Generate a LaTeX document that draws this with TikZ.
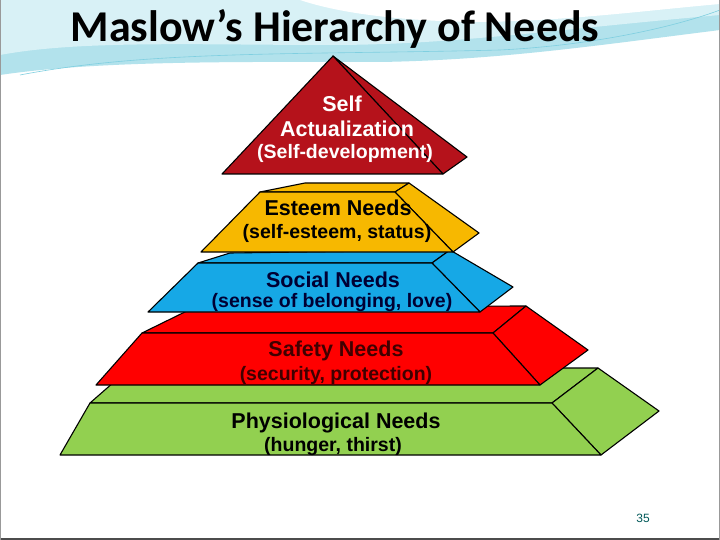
\documentclass[tikz,border=0pt]{standalone}
\usepackage{fontspec}
\setmainfont{Liberation Sans}
\newfontfamily\titlefont{Carlito}
\begin{document}
\begin{tikzpicture}[x=1pt,y=-1pt,
  face/.style={draw=black,line width=1.1pt,line join=round},
  lab/.style={font=\bfseries\fontsize{21.5}{23}\selectfont,inner sep=0pt},
  sub/.style={font=\bfseries\fontsize{19.5}{21}\selectfont,inner sep=0pt}]
\definecolor{topred}{HTML}{B5121B}
\definecolor{esteem}{HTML}{F7B800}
\definecolor{social}{HTML}{16A8E6}
\definecolor{safety}{HTML}{FF0000}
\definecolor{physio}{HTML}{92D050}
\definecolor{swoosh}{HTML}{7FCFE0}
\useasboundingbox (0,0) rectangle (720,540);
\fill[white] (0,0) rectangle (720,540);
% top swoosh background
\fill[swoosh!60] (0,0) -- (720,0) -- (720,30) .. controls (600,45) and (500,60) .. (380,62) .. controls (250,62) and (100,60) .. (0,75) -- cycle;
\fill[swoosh!30] (0,0) -- (720,0) -- (720,15) .. controls (550,30) and (450,45) .. (330,45) .. controls (200,45) and (80,40) .. (0,55) -- cycle;
\fill[white] (300,0) .. controls (330,10) and (380,20) .. (470,22) .. controls (560,22) and (650,10) .. (720,4) -- (720,0) -- cycle;
\draw[swoosh,line width=0.6pt] (20,75) .. controls (150,50) and (300,55) .. (500,50) .. controls (600,45) and (680,25) .. (720,10);
\draw[black!70,line width=1.5pt] (0,539) -- (720,539);
\draw[black!40,line width=0.8pt] (0.5,0) -- (0.5,540) (719.5,0) -- (719.5,540);
% physiological
\path[face,fill=physio] (90,403) -- (130,368) -- (598,368) -- (552,403) -- cycle;
\path[face,fill=physio] (552,403) -- (598,368) -- (659,411) -- (601,455) -- cycle;
\path[face,fill=physio] (90,403) -- (552,403) -- (601,455) -- (60,455) -- cycle;
% safety
\path[face,fill=safety] (142,333) -- (195,307) -- (526,306) -- (493,333) -- cycle;
\path[face,fill=safety] (493,333) -- (526,306) -- (588,350) -- (540,385) -- cycle;
\path[face,fill=safety] (142,333) -- (493,333) -- (540,385) -- (96,385) -- cycle;
% social
\path[face,fill=social] (198,263) -- (230,253) -- (450,250) -- (432,263) -- cycle;
\path[face,fill=social] (432,263) -- (450,250) -- (513,287) -- (480,312) -- cycle;
\path[face,fill=social] (198,263) -- (432,263) -- (480,312) -- (148,312) -- cycle;
% esteem
\path[face,fill=esteem] (260,192) -- (305,183) -- (409,183) -- (395,192) -- cycle;
\path[face,fill=esteem] (395,192) -- (409,183) -- (479,233) -- (453,252) -- cycle;
\path[face,fill=esteem] (260,192) -- (395,192) -- (453,252) -- (201,252) -- cycle;
% self actualization
\path[face,fill=topred] (333,56) -- (467,157) -- (443,174) -- cycle;
\path[face,fill=topred] (333,56) -- (443,174) -- (222,174) -- cycle;
% texts
\node[font=\titlefont\bfseries\fontsize{44}{48}\selectfont,inner sep=0pt] (title) at (335,29) {Maslow’s Hierarchy of Needs};
\node[lab,text=white] (sa1) at (342,104) {Self};
\node[lab,text=white] (sa2) at (347,129) {Actualization};
\node[sub,text=white] (sa3) at (345,153) {(Self-development)};
\node[lab] (es1) at (338,208) {Esteem Needs};
\node[sub] (es2) at (337,233) {(self-esteem, status)};
\node[lab,text=black!80!blue] (so1) at (333,280) {Social Needs};
\node[sub,text=black!80!blue] (so2) at (332,303) {(sense of belonging, love)};
\node[lab,text=black!75!red] (sf1) at (336,351) {Safety Needs};
\node[sub,text=black!75!red] (sf2) at (336,375) {(security, protection)};
\node[lab] (ph1) at (336,423) {Physiological Needs};
\node[sub] (ph2) at (333,446) {(hunger, thirst)};
\node[font=\rmfamily\fontsize{12}{13}\selectfont,text=teal!70!black] (pg) at (643,518) {35};
\end{tikzpicture}
\end{document}
